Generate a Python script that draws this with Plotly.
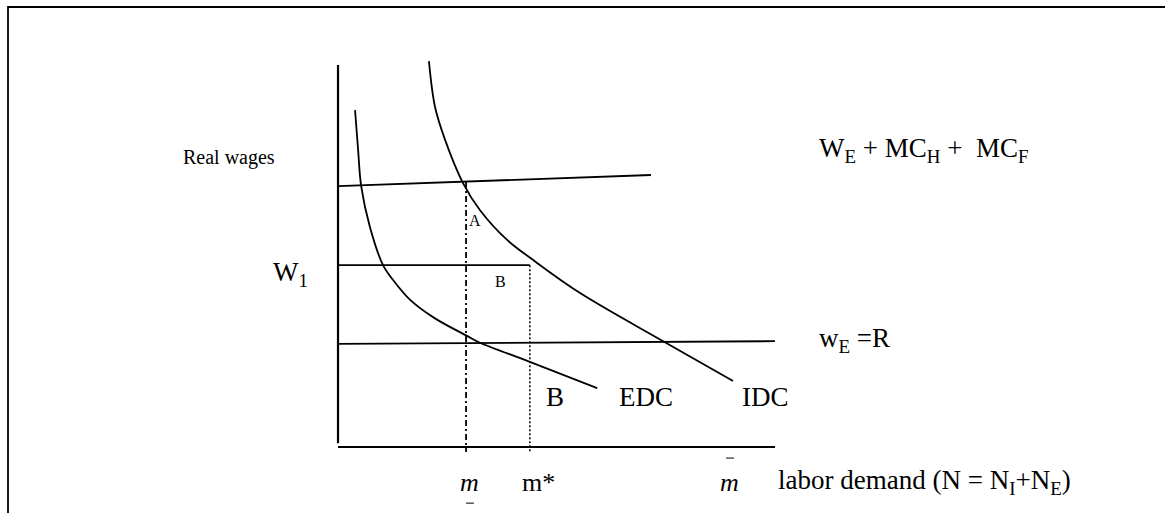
import plotly.graph_objects as go

# ---- data (schematic units: x = labor demand 0..100, y = real wage 0..100) ----
edc_x = [3.9, 4.6, 5.3, 7.3, 10.3, 12.6, 16.5, 22.0, 29.5, 32.5, 43.9, 59.3]
edc_y = [88.2, 77.7, 68.3, 57.6, 47.6, 43.7, 38.5, 33.8, 29.1, 27.3, 22.3, 15.4]

idc_x = [20.8, 22.2, 24.5, 28.6, 32.5, 38.7, 44.6, 55.4, 74.4, 90.4]
idc_y = [101.0, 89.0, 80.4, 69.1, 62.0, 54.2, 49.0, 40.3, 27.7, 17.3]

upper_x = [0, 71.6]          # W_E + MC_H + MC_F line
upper_y = [68.3, 71.2]
w1_x = [0, 43.9]              # W1 level
w1_y = [47.6, 47.6]
lower_x = [0, 100]            # w_E = R line
lower_y = [27.0, 27.7]

yaxis_x = [0, 0]
yaxis_y = [1, 100]
xaxis_x = [0, 100]
xaxis_y = [0, 0]

m_low_x = [29.3, 29.3]        # dash-dot drop line at m_
m_low_y = [69.4, -1.3]
m_star_x = [43.9, 43.9]       # dotted drop line at m*
m_star_y = [47.6, -1.3]

underbar_x = [29.3, 31.1]
underbar_y = [-14.7, -14.7]
overbar_x = [88.8, 90.6]
overbar_y = [-2.9, -2.9]

# labels: text, x, y, size, anchor
label_text = ["Real wages", "W<sub>1</sub>", "A", "B", "B", "EDC", "IDC",
              "w<sub>E</sub> =R", "W<sub>E</sub> + MC<sub>H</sub> +  MC<sub>F</sub>",
              "<i>m</i>", "m*", "<i>m</i>",
              "labor demand (N = N<sub>I</sub>+N<sub>E</sub>)"]
label_x = [-24.9, -10.8, 31.4, 37.1, 49.7, 70.5, 97.9, 109.6, 109.6, 30.0, 45.8, 89.5, 100.2]
label_y = [75.9, 45.3, 59.2, 43.2, 13.1, 13.1, 13.1, 28.0, 77.7, -9.4, -9.4, -9.4, -9.2]
label_size = [20, 27, 16, 16, 27, 27, 27, 27, 27, 26, 26, 26, 27]
label_anchor = ["center", "center", "center", "center", "center", "center", "center",
                "left", "left", "center", "center", "center", "left"]

# ---- figure ----
FONT = "Liberation Serif, Times New Roman, serif"
fig = go.Figure()

def seg(x, y, width=1.8, dash="solid", shape="linear"):
    fig.add_trace(go.Scatter(x=x, y=y, mode="lines",
                             line=dict(color="black", width=width, dash=dash, shape=shape,
                                       smoothing=1.0 if shape == "spline" else None),
                             hoverinfo="skip", showlegend=False))

seg(yaxis_x, yaxis_y, width=2.2)
seg(xaxis_x, xaxis_y, width=2.2)
seg(upper_x, upper_y)
seg(w1_x, w1_y)
seg(lower_x, lower_y)
seg(edc_x, edc_y, shape="spline")
seg(idc_x, idc_y, shape="spline")
seg(m_low_x, m_low_y, width=1.8, dash="6px,3px,2px,3px")
seg(m_star_x, m_star_y, width=1.5, dash="2px,2px")
seg(underbar_x, underbar_y, width=1)
seg(overbar_x, overbar_y, width=1)

for t, x, y, s, a in zip(label_text, label_x, label_y, label_size, label_anchor):
    fig.add_annotation(x=x, y=y, text=t, showarrow=False, xanchor=a, yanchor="middle",
                       font=dict(family=FONT, size=s, color="black"))

# frame around the drawing (left and top edges visible)
fig.add_shape(type="path", xref="paper", yref="paper",
              path="M 0.00687,-0.05 L 0.00687,0.9864 L 1.05,0.9864",
              line=dict(color="black", width=1.8))

fig.update_layout(
    width=1165, height=513,
    margin=dict(l=0, r=0, t=0, b=0),
    paper_bgcolor="white", plot_bgcolor="white",
    showlegend=False, hovermode=False,
    xaxis=dict(range=[-77.35, 189.24], visible=False, fixedrange=True),
    yaxis=dict(range=[-17.28, 117.02], visible=False, fixedrange=True),
)

fig.write_html("out.html", config={"displayModeBar": False},
               post_script="document.body.style.margin='0';document.body.style.overflow='hidden';")
